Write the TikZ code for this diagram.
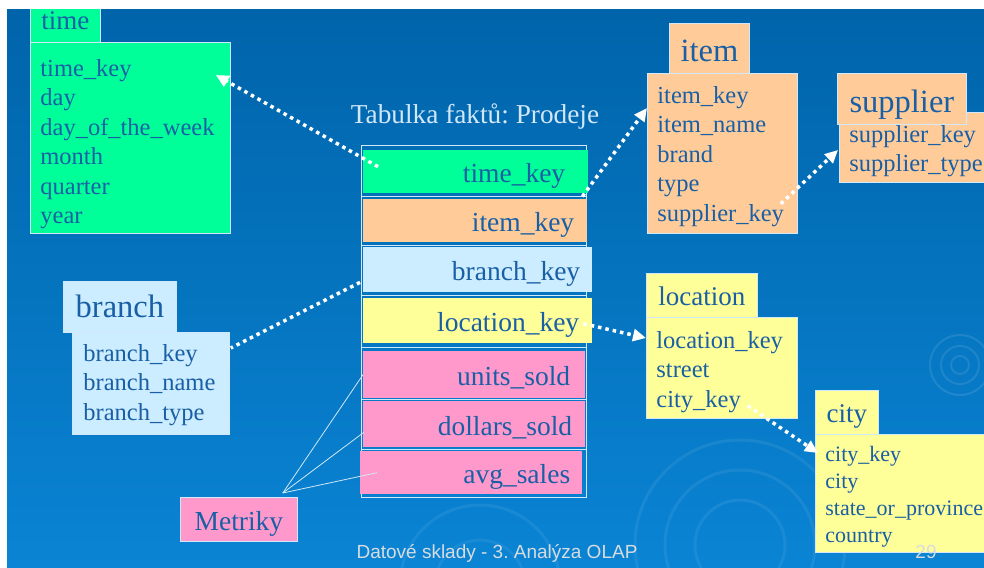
\documentclass[tikz,border=0pt]{standalone}
\usepackage{fontspec}
\setmainfont{Liberation Serif}
\newfontfamily\footfont{Liberation Sans}
\usetikzlibrary{arrows.meta}
\frenchspacing
\definecolor{bgtop}{RGB}{0,100,170}
\definecolor{bgbot}{RGB}{10,132,212}
\definecolor{txtblue}{RGB}{25,95,165}
\definecolor{cgreen}{RGB}{0,255,153}
\definecolor{corange}{RGB}{255,204,153}
\definecolor{clblue}{RGB}{204,236,255}
\definecolor{cyellow}{RGB}{255,255,153}
\definecolor{cpink}{RGB}{255,153,204}
\definecolor{cline}{RGB}{210,232,248}
\definecolor{cfoot}{RGB}{215,220,225}
\begin{document}
\begin{tikzpicture}[x=1pt,y=-1pt,
	box/.style={draw=cline,line width=0.8pt,rectangle,anchor=north west,inner sep=0pt,text=txtblue},
	head/.style={box,text depth=0pt,text height=20pt,font=\fontsize{27}{27}\selectfont},
	bighead/.style={box,text depth=0pt,font=\fontsize{32.5}{32.5}\selectfont},
	attr/.style={box,inner xsep=10pt,align=left,text height=0pt,font=\fontsize{24.5}{29.5}\selectfont},
	frow/.style={rectangle,anchor=north west,inner ysep=0pt,align=right,text height=22pt,text depth=0pt,text=txtblue,font=\fontsize{27.5}{27.5}\selectfont},
	dots/.style={draw=white,line width=3.5pt,dash pattern=on 3.5pt off 4pt},
	fk/.style={dots,-{Triangle[length=13pt,width=12pt]}},
	ml/.style={draw=cline,line width=0.8pt}]
	\useasboundingbox (0,0) rectangle (984,567);
	\begin{scope}
		\clip (7,10) rectangle (984,567);
		\shade[top color=bgtop,bottom color=bgbot] (7,10) rectangle (984,567);
		\draw[white,opacity=0.1,line width=2pt] (960,365) circle (9) circle (19) circle (30);
		\draw[white,opacity=0.07,line width=3pt] (740,545) circle (45) circle (75) circle (105);
		\draw[white,opacity=0.07,line width=3pt] (480,585) circle (45) circle (80);
		% time
		\node[attr,fill=cgreen,minimum width=200pt,minimum height=191pt,text width=180pt,text depth=123pt] (timeb) at (30,42)
			{time\_key\\day\\day\_of\_the\_week\\month\\quarter\\year};
		\node[head,fill=cgreen,minimum width=70pt,minimum height=40pt,text height=14pt] (timeh) at (30,2) {time};
		% item, supplier
		\node[attr,fill=corange,minimum width=150pt,minimum height=160pt,text width=130pt,text depth=100pt] (itemb) at (647,73)
			{item\_key\\item\_name\\brand\\type\\supplier\_key};
		\node[bighead,fill=corange,minimum width=80pt,minimum height=50pt,text height=26pt] (itemh) at (669,23) {item};
		\node[attr,fill=corange,minimum width=160pt,minimum height=70pt,text width=140pt,text depth=10pt] (supb) at (839,112)
			{supplier\_key\\supplier\_type};
		\node[bighead,fill=corange,minimum width=129pt,minimum height=51pt,text height=27pt] (suph) at (837,73) {supplier};
		% branch
		\node[attr,fill=clblue,minimum width=157pt,minimum height=102pt,text width=135pt,inner xsep=11pt,text depth=44pt] (branchb) at (72,332)
			{branch\_key\\branch\_name\\branch\_type};
		\node[bighead,fill=clblue,minimum width=113pt,minimum height=51pt,text height=21pt] (branchh) at (63,281) {branch};
		% location, city
		\node[attr,fill=cyellow,minimum width=151pt,minimum height=101pt,text width=131pt,text depth=39pt] (locb) at (646,317)
			{location\_key\\street\\city\_key};
		\node[head,fill=cyellow,minimum width=111pt,minimum height=44pt] (loch) at (646,273) {location};
		\node[attr,fill=cyellow,minimum width=175pt,minimum height=118pt,text width=155pt,text depth=63pt,font=\fontsize{22}{26.7}\selectfont] (cityb) at (815,434)
			{city\_key\\city\\state\_or\_province\\country};
		\node[head,fill=cyellow,minimum width=63pt,minimum height=44pt] (cityh) at (815,390) {city};
		% fact table
		\node[text=cline,anchor=base,font=\fontsize{27.3}{27.3}\selectfont] (title) at (475,124) {Tabulka faktů: Prodeje};
		\draw[ml] (361,145) rectangle (586,497);
		\foreach \y in {196,245,295,347,399,449}
			\draw[ml] (361,\y) -- (586,\y);
		\node[frow,fill=cgreen,minimum height=43pt,inner xsep=23pt,text width=179pt] (ft) at (363,150) {time\_key};
		\node[frow,fill=corange,minimum height=43pt,inner xsep=13pt,text width=198pt] (fi) at (363,199) {item\_key};
		\node[frow,fill=clblue,minimum height=45pt,inner xsep=12pt,text width=205pt] (fb) at (363,247) {branch\_key};
		\node[frow,fill=cyellow,minimum height=45pt,inner xsep=13pt,text width=203pt] (fl) at (363,298) {location\_key};
		\node[frow,fill=cpink,minimum height=47pt,inner xsep=15pt,text width=192pt] (fu) at (363,351) {units\_sold};
		\node[frow,fill=cpink,minimum height=46pt,inner xsep=13pt,text width=196pt] (fd) at (363,401) {dollars\_sold};
		\node[frow,fill=cpink,minimum height=43pt,inner xsep=12pt,text width=198pt] (fa) at (360,451) {avg\_sales};
		% metrics
		\node[box,fill=cpink,minimum width=117pt,minimum height=44pt,text height=22pt,text depth=0pt,font=\fontsize{27.5}{27.5}\selectfont] (metr) at (180,497) {Metriky};
		\coordinate (mk) at ([shift={(-15,-4)}]metr.north east);
		\draw[ml] (mk) -- (fu.west);
		\draw[ml] (mk) -- ([shift={(1,8)}]fd.west);
		\draw[ml] (mk) -- ([shift={(17,0)}]fa.west);
		% keys
		\draw[fk] ([shift={(15,-5)}]ft.west) -- ([shift={(-15,33)}]timeb.north east);
		\draw[fk] ([shift={(-6,3)}]ft.south east) -- ([shift={(0,35)}]itemb.north west);
		\draw[fk] ([shift={(-17,-30)}]itemb.south east) -- ([shift={(-1,38)}]supb.north west);
		\draw[dots] ([shift={(-3,-10)}]fb.south west) -- ([shift={(1,16)}]branchb.north east);
		\draw[fk] ([shift={(-9,3)}]fl.east) -- ([shift={(0,21)}]locb.north west);
		\draw[fk] ([shift={(-50,-13)}]locb.south east) -- ([shift={(3,19)}]cityb.north west);
		% footer
		\node[text=cfoot,anchor=base,font=\footfont\fontsize{19}{19}\selectfont] (foot) at (497,558) {Datové sklady - 3. Analýza OLAP};
		\node[text=cfoot,anchor=base,font=\footfont\fontsize{19}{19}\selectfont] (page) at (926,558) {29};
	\end{scope}
\end{tikzpicture}
\end{document}
